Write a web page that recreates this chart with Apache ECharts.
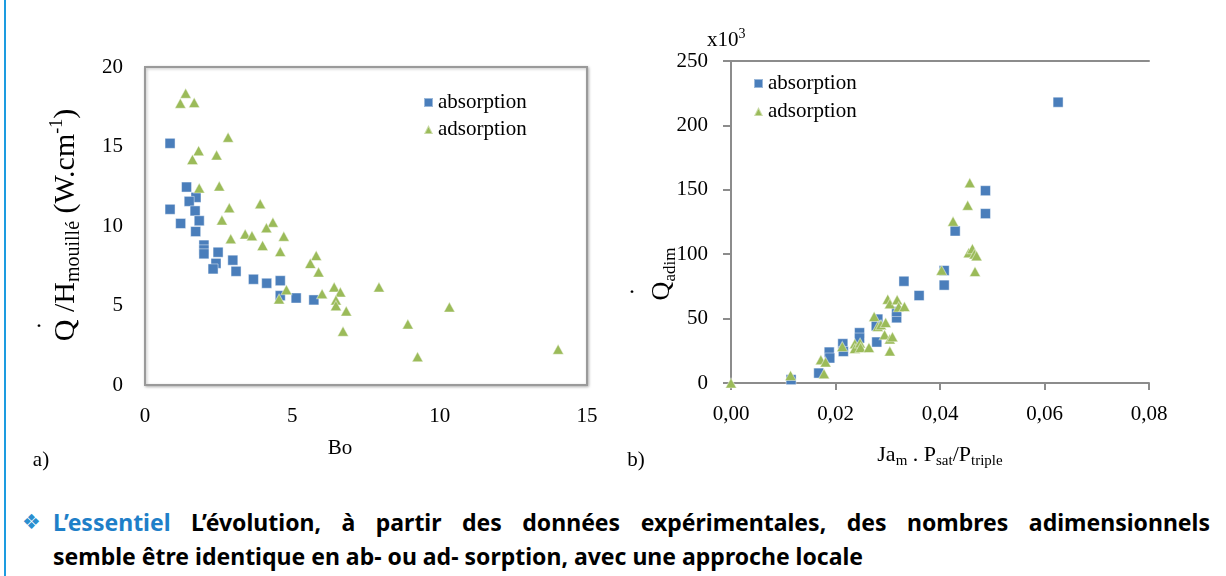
<!DOCTYPE html>
<html>
<head>
<meta charset="utf-8">
<script src="https://cdn.jsdelivr.net/npm/echarts@6/dist/echarts.min.js"></script>
<style>
  html, body { margin: 0; padding: 0; background: #fff; }
  #wrap { position: relative; width: 1226px; height: 576px; overflow: hidden; }
  #edge { position: absolute; left: 4px; top: 0; width: 2px; height: 576px; background: #1d9ce0; }
  #chart { position: absolute; left: 0; top: 0; width: 1226px; height: 500px; }
  #note { position: absolute; left: 22px; top: 505px; width: 1188px; font: bold 23px/34px 'Noto Sans', sans-serif; color: #000; }
  #note .bullet { position: absolute; left: 0; top: 0; color: #2a8fd0; font-family: 'DejaVu Sans'; font-size: 21px; }
  #note .line1 { margin-left: 31px; text-align: justify; text-align-last: justify; white-space: nowrap; }
  #note .line2 { margin-left: 31px; }
  #note .key { color: #1e7fc8; }
</style>
</head>
<body>
<div id="wrap">
  <div id="edge"></div>
  <div id="chart"></div>
  <div id="note">
    <span class="bullet">❖</span>
    <div class="line1"><span class="key">L’essentiel</span> L’évolution, à partir des données expérimentales, des nombres adimensionnels</div>
    <div class="line2">semble être identique en ab- ou ad- sorption, avec une approche locale</div>
  </div>
</div>
<script>
// a) Q/H mouillé vs Bo
const absorptionA = [
  [0.85, 15.2], [1.41, 12.45], [1.73, 11.8], [1.5, 11.55], [0.85, 11.05], [1.7, 10.95],
  [1.84, 10.33], [1.21, 10.16], [1.72, 9.65], [2.0, 8.8], [2.0, 8.5], [2.0, 8.25],
  [2.48, 8.35], [2.41, 7.65], [2.31, 7.3], [2.98, 7.85], [3.09, 7.15], [3.68, 6.65],
  [4.13, 6.4], [4.59, 6.56], [4.59, 5.62], [5.13, 5.47], [5.73, 5.35]
]
const adsorptionA = [
  [1.38, 18.35], [1.2, 17.72], [1.67, 17.76], [2.82, 15.58], [1.82, 14.74], [2.43, 14.47],
  [1.61, 14.19], [1.84, 12.39], [2.52, 12.52], [3.91, 11.4], [2.86, 11.15], [2.61, 10.38],
  [4.34, 10.23], [4.12, 9.89], [2.91, 9.2], [3.4, 9.5], [3.63, 9.39], [4.71, 9.35],
  [3.99, 8.78], [4.59, 8.39], [5.81, 8.15], [5.61, 7.65], [5.89, 7.11], [6.42, 6.16],
  [7.94, 6.16], [4.8, 5.99], [6.63, 5.85], [6.01, 5.74], [6.48, 5.35], [4.55, 5.41],
  [6.48, 4.99], [6.83, 4.65], [10.33, 4.91], [8.92, 3.84], [6.72, 3.38], [14.02, 2.25],
  [9.25, 1.78]
]
// b) Q adim (x10^3) vs Ja_m . Psat/Ptriple
const absorptionB = [
  [0.0115, 2.6], [0.0168, 7.7], [0.0188, 24], [0.0189, 19.4], [0.0214, 30.5], [0.0215, 24.5],
  [0.0246, 39], [0.0246, 34.9], [0.0279, 31.8], [0.0281, 49.6], [0.0278, 44.4], [0.0317, 50.6],
  [0.0317, 55.5], [0.0331, 79], [0.036, 67.9], [0.0408, 76], [0.0408, 87.3], [0.0429, 118],
  [0.0487, 131.5], [0.0487, 149.3], [0.0626, 218]
]
const adsorptionB = [
  [0, 0], [0.0114, 5.9], [0.0178, 7.2], [0.0172, 18], [0.0181, 16.3], [0.0213, 28.4],
  [0.0237, 30.5], [0.0237, 26.8], [0.0247, 31], [0.0248, 27.6], [0.0264, 27.6], [0.0274, 51.6],
  [0.0281, 43.9], [0.0287, 45.2], [0.0296, 47], [0.0294, 37.4], [0.03, 65.1], [0.0304, 61.5],
  [0.0304, 34.1], [0.0309, 35.9], [0.0304, 24.8], [0.0318, 64.6], [0.0321, 59.1], [0.0332, 59.4],
  [0.0403, 87.6], [0.0425, 125.6], [0.0453, 138], [0.0457, 155.5], [0.0455, 101.2], [0.0462, 104.3],
  [0.0466, 100.2], [0.047, 98.7], [0.0467, 86.5]
]
const seriesNames = ['absorption', 'adsorption']

const BLUE = '#4a7ebb'
const GREEN = '#9bbb59'
const SERIF = 'Liberation Serif'
const axisGray = '#8c8c8c'

const chart = echarts.init(document.getElementById('chart'))

// plain fontFamily on labels kept falling back to sans, so go through rich text
const serifRich = { t: { fontFamily: SERIF, fontSize: 21, color: '#000', lineHeight: 22 } }
const wrapT = (s) => '{t|' + s + '}'

function axisLabel(margin, fmt) {
  return { margin: margin, formatter: (v) => wrapT(fmt ? fmt(v) : v), rich: serifRich }
}

function legendAt(left, top, gap) {
  return {
    orient: 'vertical', left: left, top: top, itemWidth: 9, itemHeight: 9, itemGap: gap,
    data: [{ name: seriesNames[0], icon: 'rect' }, { name: seriesNames[1], icon: 'triangle' }],
    formatter: wrapT,
    textStyle: { rich: serifRich }
  }
}

function markStyle(color) {
  return { color: color, borderColor: 'rgba(255,255,255,0.45)', borderWidth: 1, opacity: 1 }
}

chart.setOption({
  animation: false,
  grid: [
    {
      left: 145, top: 67, width: 442, height: 318, show: true,
      backgroundColor: '#fff', borderColor: '#9a9a9a', borderWidth: 2,
      shadowColor: 'rgba(0,0,0,0.25)', shadowBlur: 3, shadowOffsetX: 1, shadowOffsetY: 1
    },
    { left: 731, top: 61, width: 418, height: 322 }
  ],
  legend: [legendAt(418, 87, 6), legendAt(748, 68, 7)],
  xAxis: [
    {
      gridIndex: 0, type: 'value', min: 0, max: 15, interval: 5,
      axisLine: { show: false }, axisTick: { show: false }, splitLine: { show: false },
      axisLabel: axisLabel(20)
    },
    {
      gridIndex: 1, type: 'value', min: 0, max: 0.08, interval: 0.02,
      axisLine: { show: true, lineStyle: { color: axisGray, width: 2 } },
      axisTick: { show: true, length: 7, lineStyle: { color: axisGray, width: 2 } },
      splitLine: { show: false },
      axisLabel: axisLabel(20, (v) => v.toFixed(2).replace('.', ','))
    },
    {
      gridIndex: 1, type: 'value', position: 'top', min: 0, max: 0.08,
      axisLine: { show: true, lineStyle: { color: axisGray, width: 2 } },
      axisTick: { show: false }, axisLabel: { show: false }, splitLine: { show: false }
    }
  ],
  yAxis: [
    {
      gridIndex: 0, type: 'value', min: 0, max: 20, interval: 5,
      axisLine: { show: false }, axisTick: { show: false }, splitLine: { show: false },
      axisLabel: axisLabel(22)
    },
    {
      gridIndex: 1, type: 'value', min: 0, max: 250, interval: 50,
      axisLine: { show: true, lineStyle: { color: axisGray, width: 2 } },
      axisTick: { show: true, length: 8, lineStyle: { color: axisGray, width: 2 } },
      splitLine: { show: false },
      axisLabel: axisLabel(23)
    }
  ],
  series: [
    { name: seriesNames[0], type: 'scatter', xAxisIndex: 0, yAxisIndex: 0, data: absorptionA,
      symbol: 'rect', symbolSize: 10, itemStyle: markStyle(BLUE) },
    { name: seriesNames[1], type: 'scatter', xAxisIndex: 0, yAxisIndex: 0, data: adsorptionA,
      symbol: 'triangle', symbolSize: [11, 10], itemStyle: markStyle(GREEN) },
    { name: seriesNames[0], type: 'scatter', xAxisIndex: 1, yAxisIndex: 1, data: absorptionB,
      symbol: 'rect', symbolSize: 10, itemStyle: markStyle(BLUE) },
    { name: seriesNames[1], type: 'scatter', xAxisIndex: 1, yAxisIndex: 1, data: adsorptionB,
      symbol: 'triangle', symbolSize: [11, 10], itemStyle: markStyle(GREEN) }
  ],
  graphic: [
    // a) y title
    {
      type: 'text', x: 66, y: 225, rotation: Math.PI / 2,
      style: {
        text: '{m|Q /H}{s|mouillé}{m| (W.cm}{p|-1}{m|)}',
        align: 'center', verticalAlign: 'middle', fill: '#000',
        rich: {
          m: { fontFamily: SERIF, fontSize: 30, lineHeight: 36 },
          s: { fontFamily: SERIF, fontSize: 20, lineHeight: 16, verticalAlign: 'bottom' },
          p: { fontFamily: SERIF, fontSize: 18, lineHeight: 15, verticalAlign: 'top' }
        }
      }
    },
    { type: 'text', x: 39, y: 321, style: { text: '.', font: '24px ' + SERIF, fill: '#000', align: 'center', verticalAlign: 'middle' } },
    { type: 'text', x: 340, y: 448, style: { text: 'Bo', font: '21px ' + SERIF, fill: '#000', align: 'center', verticalAlign: 'middle' } },
    { type: 'text', x: 41, y: 460, style: { text: 'a)', font: '21px ' + SERIF, fill: '#000', align: 'center', verticalAlign: 'middle' } },
    // b) y title
    {
      type: 'text', x: 662, y: 274, rotation: Math.PI / 2,
      style: {
        text: '{m|Q}{s|adim}',
        align: 'center', verticalAlign: 'middle', fill: '#000',
        rich: {
          m: { fontFamily: SERIF, fontSize: 26, lineHeight: 34 },
          s: { fontFamily: SERIF, fontSize: 17, lineHeight: 14, verticalAlign: 'bottom' }
        }
      }
    },
    { type: 'text', x: 632, y: 287, style: { text: '.', font: '24px ' + SERIF, fill: '#000', align: 'center', verticalAlign: 'middle' } },
    {
      type: 'text', x: 707, y: 40,
      style: {
        text: '{m|x10}{p|3}', align: 'left', verticalAlign: 'middle', fill: '#000',
        rich: {
          m: { fontFamily: SERIF, fontSize: 21, lineHeight: 26 },
          p: { fontFamily: SERIF, fontSize: 14, lineHeight: 12, verticalAlign: 'top' }
        }
      }
    },
    {
      type: 'text', x: 940, y: 455,
      style: {
        text: '{m|Ja}{s|m}{m| . P}{s|sat}{m|/P}{s|triple}',
        align: 'center', verticalAlign: 'middle', fill: '#000',
        rich: {
          m: { fontFamily: SERIF, fontSize: 22, lineHeight: 28 },
          s: { fontFamily: SERIF, fontSize: 15, lineHeight: 12, verticalAlign: 'bottom' }
        }
      }
    },
    { type: 'text', x: 636, y: 460, style: { text: 'b)', font: '21px ' + SERIF, fill: '#000', align: 'center', verticalAlign: 'middle' } }
  ]
})
</script>
</body>
</html>
